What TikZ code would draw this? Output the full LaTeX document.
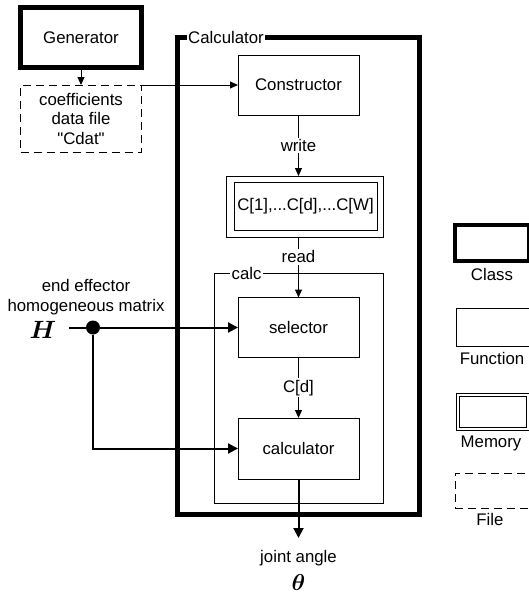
\documentclass[tikz,border=0pt]{standalone}
\usepackage{fix-cm}
\usepackage{amsmath, bm}
\usepackage{fontspec}
\setmainfont{Liberation Sans}[Ligatures=TeXOff]
\usetikzlibrary{arrows.meta, positioning}

\begin{document}
\begin{tikzpicture}[x=1pt,y=-1pt,
    font=\fontsize{16.8}{19.5}\selectfont,
    box/.style={draw,line width=1pt,outer sep=0pt,inner sep=2pt},
    classbox/.style={draw,line width=5pt,outer sep=0pt},
    filebox/.style={draw,line width=1pt,dash pattern=on 8pt off 5pt,outer sep=0pt,align=center},
    arr/.style={-{Triangle[length=8pt,width=7pt]},line width=1pt},
    bigarr/.style={-{Triangle[length=10pt,width=10pt]},line width=2pt},
    lbl/.style={fill=white,inner sep=1.5pt}]

    \useasboundingbox (0,0) rectangle (528,595);

    % Generator and its file
    \node[classbox,minimum width=121,minimum height=60] (generator) at (81,37.5) {Generator};
    \node[filebox,minimum width=121,minimum height=67] (cdat) at (81,118.5) {coefficients\\data file\\"Cdat"};
    \draw[arr] (generator.south) -- (cdat.north);

    % Calculator class
    \node[classbox,minimum width=241.5,minimum height=476.5] (calcclass) at (298.25,275.75) {};
    \node[lbl,anchor=west] at ([xshift=9]calcclass.north west) {Calculator};

    % Constructor and memory
    \node[box,minimum width=121,minimum height=60] (constructor) at (298.5,85) {Constructor};
    \draw[arr] (cdat.north east) -- (constructor.west);
    \node[box,minimum width=157,minimum height=61] (memory) at (304.5,206.5) {};
    \node[box,minimum width=143,minimum height=48] (cvals) at (305.5,206) {C[1],...C[d],...C[W]};
    \draw[arr] (constructor.south) -- node[lbl]{write} (constructor.south |- memory.north);

    % calc function
    \node[box,minimum width=169,minimum height=230] (calcframe) at (298.5,388) {};
    \node[lbl,anchor=west] at ([xshift=16]calcframe.north west) {calc};
    \node[box,minimum width=121,minimum height=60] (selector) at (298.5,327.5) {selector};
    \node[box,minimum width=121,minimum height=61] (calculator) at (298.5,448.5) {calculator};
    \draw[arr] (memory.south -| selector.north) -- node[lbl,pos=0.33]{read} (selector.north);
    \draw[arr] (selector.south) -- node[lbl]{C[d]} (calculator.north);

    % input H
    \node (hmat) at (43,330) {\fontsize{25}{25}\selectfont$\bm{H}$};
    \node[align=center] (eelabel) at (86,297) {end effector\\homogeneous matrix};
    \coordinate (hin) at (69,327.5);
    \node[circle,fill,inner sep=0pt,minimum size=14pt] (junction) at (93,327.5) {};
    \draw[line width=2pt] (hin) -- (junction);
    \draw[bigarr] (junction) -- (selector.west);
    \draw[bigarr] (junction) |- (calculator.west);

    % output theta
    \coordinate (thetaout) at (298.5,538);
    \draw[bigarr] (calculator.south) -- (thetaout);
    \node (jointlbl) at (298.5,558) {joint angle};
    \node[inner sep=0pt] (theta) at (298.5,583) {\fontsize{23}{23}\selectfont$\bm{\theta}$};

    % Legend
    \node[classbox,line width=4pt,minimum width=74,minimum height=36] (legclass) at (492,243) {};
    \node at (492,274) {Class};
    \node[box,minimum width=74,minimum height=38] (legfunc) at (493,327) {};
    \node at (492,358) {Function};
    \node[box,minimum width=74,minimum height=37] (legmem) at (493,411.5) {};
    \node[box,minimum width=67,minimum height=31] (legmemin) at (492.5,411.5) {};
    \node at (491,443) {Memory};
    \node[filebox,minimum width=76,minimum height=35] (legfile) at (493,490.5) {};
    \node at (490,519) {File};
\end{tikzpicture}
\end{document}
